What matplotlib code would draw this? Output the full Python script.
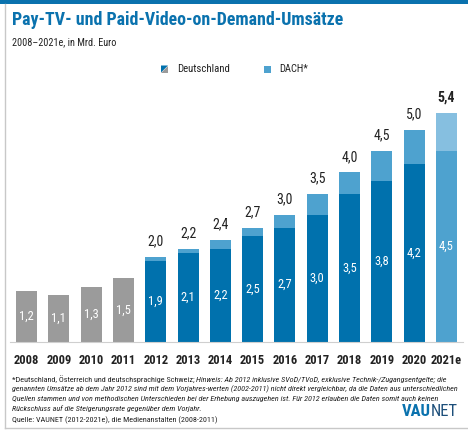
import matplotlib
matplotlib.use('Agg')
import matplotlib.pyplot as plt
import matplotlib.patches as patches
from matplotlib.font_manager import fontManager, FontProperties

# data
years = ['2008', '2009', '2010', '2011', '2012', '2013', '2014',
         '2015', '2016', '2017', '2018', '2019', '2020', '2021e']
old_totals = [1.2, 1.1, 1.3, 1.5]  # 2008-2011, Deutschland only
de_values = [1.9, 2.1, 2.2, 2.5, 2.7, 3.0, 3.5, 3.8, 4.2, 4.5]  # 2012-2021e
dach_totals = [2.0, 2.2, 2.4, 2.7, 3.0, 3.5, 4.0, 4.5, 5.0, 5.4]

BLUE = '#0071ad'
MID = '#4ea2cf'
LIGHT = '#86bfe0'
GRAY = '#9b9b9b'
TITLE_BLUE = '#0a72ae'
TXT = '#222222'


# look for a condensed face, the original uses a DIN-like narrow font
def find_font(bold=False, italic=False):
    best = None
    for f in fontManager.ttflist:
        narrow = ('Narrow' in f.name or 'Condensed' in f.name or
                  'condensed' in str(f.stretch))
        if not narrow:
            continue
        is_bold = f.weight in ('bold', 700, 600, 'semibold', 'demibold')
        is_it = f.style in ('italic', 'oblique')
        if is_bold == bold and is_it == italic:
            best = f.fname
            if 'Roboto' in f.name or 'Liberation' in f.name:
                break
    return best


def fp(bold=False, italic=False):
    fn = find_font(bold, italic)
    if fn:
        return FontProperties(fname=fn)
    return FontProperties(family='Roboto', weight='bold' if bold else 'normal',
                          style='italic' if italic else 'normal')


F_REG = fp()
F_BOLD = fp(bold=True)
F_IT = fp(italic=True)

W, H = 468, 433
fig = plt.figure(figsize=(W / 100, H / 100), dpi=100)
fig.patch.set_facecolor('white')
fig.canvas.draw()
r = fig.canvas.get_renderer()


def px(x, y):
    return x / W, 1 - y / H


def put(x, y, s, prop, size, **kw):
    p = prop.copy()
    p.set_size(size)
    return fig.text(*px(x, y), s, fontproperties=p, **kw)


def fit(x, y, s, prop, width, **kw):
    t = put(x, y, s, prop, 10, **kw)
    w = t.get_window_extent(renderer=r).width
    t.get_fontproperties().set_size(10 * width / w)
    return t


# frame
fig.add_artist(patches.Rectangle(px(0, 4), 1, 4 / H, transform=fig.transFigure,
                                 facecolor=TITLE_BLUE, edgecolor='none'))
fig.add_artist(plt.Line2D([5 / W, 5 / W], [1 - 4 / H, 1 - 428 / H],
                          transform=fig.transFigure, color='#c8c8c8', lw=1))
fig.add_artist(plt.Line2D([5 / W, 1], [1 - 428 / H, 1 - 428 / H],
                          transform=fig.transFigure, color='#c8c8c8', lw=1))

fit(12, 20, 'Pay-TV- und Paid-Video-on-Demand-Umsätze', F_BOLD, 333,
    color=TITLE_BLUE, va='center', ha='left')
fit(12, 42, '2008\u20132021e, in Mrd. Euro', F_REG, 104, color=TXT,
    va='center', ha='left')

# legend
lx, ly = 161, 65.5
fig.add_artist(patches.Polygon([px(lx, ly), px(lx + 7, ly), px(lx, ly + 7)],
                               closed=True, transform=fig.transFigure,
                               facecolor=BLUE, edgecolor='none'))
fig.add_artist(patches.Polygon([px(lx + 7, ly), px(lx + 7, ly + 7), px(lx, ly + 7)],
                               closed=True, transform=fig.transFigure,
                               facecolor=GRAY, edgecolor='none'))
fit(177, 69, 'Deutschland', F_REG, 53, color=TXT, va='center', ha='left')
fig.add_artist(patches.Rectangle(px(264, 72.5), 7 / W, 7 / H, transform=fig.transFigure,
                                 facecolor=MID, edgecolor='none'))
fit(279, 69, 'DACH*', F_REG, 29, color=TXT, va='center', ha='left')

# axes
ax_left, ax_right = 10.35, 462.65
ax_bottom, ax_top = 342, 80
ax = fig.add_axes([ax_left / W, 1 - ax_bottom / H, (ax_right - ax_left) / W,
                   (ax_bottom - ax_top) / H])
ax.set_xlim(-0.5, len(years) - 0.5)
ax.set_ylim(0, (ax_bottom - ax_top) / 42.4)
for s in ['top', 'right', 'left']:
    ax.spines[s].set_visible(False)
ax.spines['bottom'].set_color('#cfcfcf')
ax.spines['bottom'].set_linewidth(0.8)
ax.set_yticks([])
ax.set_xticks(range(len(years)))
tick_fp = F_BOLD.copy()
tick_fp.set_size(9)
ax.set_xticklabels(years, fontproperties=tick_fp, color=TXT)
ax.tick_params(axis='x', length=0, pad=8.5)

bw = 0.65
lab_fp = F_REG.copy()
lab_fp.set_size(9)
top_fp = F_REG.copy()
top_fp.set_size(10)
top_bold = F_BOLD.copy()
top_bold.set_size(10)


def fmt(v):
    return f'{v:.1f}'.replace('.', ',')


n_old = len(old_totals)
for i, v in enumerate(old_totals):
    ax.bar(i, v, width=bw, color=GRAY)
    ax.text(i, v / 2, fmt(v), ha='center', va='center', color='white',
            fontproperties=lab_fp)

for j, (d, t) in enumerate(zip(de_values, dach_totals)):
    i = n_old + j
    last = j == len(de_values) - 1
    ax.bar(i, d, width=bw, color=MID if last else BLUE)
    ax.bar(i, t - d, bottom=d, width=bw, color=LIGHT if last else MID)
    ax.text(i, d / 2, fmt(d), ha='center', va='center', color='white',
            fontproperties=lab_fp)
    ax.text(i, t + 0.2, fmt(t), ha='center', va='bottom', color=TXT,
            fontproperties=top_bold if last else top_fp)

# footnote, size fitted on the longest line
notes = [
    'genannten Umsätze ab dem Jahr 2012 sind mit dem Vorjahres-werten (2002-2011) nicht direkt vergleichbar, da die Daten aus unterschiedlichen',
    'Quellen stammen und von methodischen Unterschieden bei der Erhebung auszugehen ist. Für 2012 erlauben die Daten somit auch keinen',
    'Rückschluss auf die Steigerungsrate gegenüber dem Vorjahr.',
]
t1 = fit(12, 389.5, notes[0], F_IT, 446, color=TXT, va='center', ha='left')
fs = t1.get_fontproperties().get_size()
for k, line in enumerate(notes[1:]):
    put(12, 389.5 + (k + 1) * 9.7, line, F_IT, fs, color=TXT, va='center', ha='left')
t0 = put(12, 379.5, '*Deutschland, Österreich und deutschsprachige Schweiz; ', F_REG, fs,
         color=TXT, va='center', ha='left')
bb = t0.get_window_extent(renderer=r)
hint = put(12, 379.5,
           'Hinweis: Ab 2012 inklusive SVoD/TVoD, exklusive Technik-/Zugangsentgelte; die',
           F_IT, fs, color=TXT, va='center', ha='left')
hint.set_position((bb.x1 / W, 1 - 379.5 / H))
put(12, 420, 'Quelle: VAUNET (2012-2021e), die Medienanstalten (2008-2011)', F_REG, fs,
    color=TXT, va='center', ha='left')

# logo, right-aligned at x=458
tn = put(458, 412, 'NET', F_REG, 12, color='#1d4f7a', va='center', ha='right')
bb = tn.get_window_extent(renderer=r)
put(bb.x0, 412, 'VAU', F_BOLD, 12, color=TITLE_BLUE, va='center', ha='right')

fig.savefig('out.png', dpi=100)
